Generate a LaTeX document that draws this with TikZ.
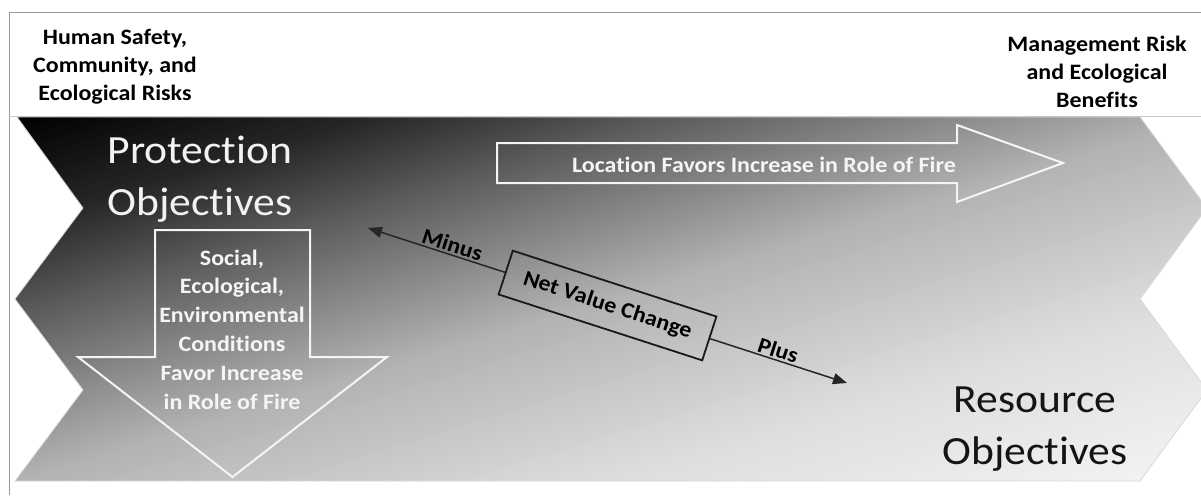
\documentclass[tikz,border=0pt]{standalone}
\usepackage{fontspec}
\setmainfont{Carlito}[FakeStretch=1.09, Ligatures=NoCommon]
\usetikzlibrary{arrows.meta}
\tikzset{
  smalltxt/.style={font=\bfseries\fontsize{22}{28}\selectfont, align=center},
  bigtxt/.style={font=\fontsize{40}{52}\selectfont, align=center},
  whiteline/.style={draw=white!96!black, line width=2},
  netarrow/.style={draw=black!85, line width=1.5, -{Triangle[length=14pt,width=11pt]}},
}
\begin{document}
\begin{tikzpicture}[x=1pt,y=-1pt]
\useasboundingbox (0,0) rectangle (1201,495);
% frame
\draw[black!40, line width=1] (9,495) -- (9,13) -- (1201,13);
% chevron band with diagonal gradient
\begin{scope}
  \clip (17,117) -- (1140,117) -- (1207,208) -- (1140,299) -- (1207,390) -- (1140,481)
    -- (15,481) -- (83,390) -- (15,299) -- (83,208) -- cycle;
  \foreach \i in {0,...,159}{
    \pgfmathsetmacro{\ca}{\i/80}
    \pgfmathsetmacro{\cb}{(\i+1)/80+0.004}
    \pgfmathsetmacro{\cm}{(\i+0.5)/80}
    \pgfmathsetmacro{\g}{100*(\cm<0.3 ? \cm/0.3*0.15 : (\cm<0.55 ? 0.15+(\cm-0.3)/0.25*0.21 : (\cm<1 ? 0.36+(\cm-0.55)/0.45*0.34 : (\cm<1.5 ? 0.70+(\cm-1)/0.5*0.17 : 0.87+(\cm-1.5)/0.5*0.09))))}
    \pgfmathsetmacro{\xa}{15+1192*(\ca+0.1)}
    \pgfmathsetmacro{\xb}{15+1192*(\cb+0.1)}
    \pgfmathsetmacro{\xc}{15+1192*(\cb-1.1)}
    \pgfmathsetmacro{\xd}{15+1192*(\ca-1.1)}
    \fill[white!\g!black] (\xa,80.6) -- (\xb,80.6) -- (\xc,517.4) -- (\xd,517.4) -- cycle;
  }
\end{scope}
\draw[white!85!black, line width=0.8]
  (17,117) -- (1140,117) -- (1207,208) -- (1140,299) -- (1207,390) -- (1140,481)
  -- (15,481) -- (83,390) -- (15,299) -- (83,208) -- cycle;
\draw[black!22, line width=1] (9,116) -- (1201,116);
% header texts (base = last line)
\node[smalltxt, anchor=base] (hdrL) at (115,100) {Human Safety,\\Community, and\\Ecological Risks};
\node[smalltxt, anchor=base] (hdrR) at (1097,107) {Management Risk\\and Ecological\\Benefits};
% big texts
\node[bigtxt, text=white!95!black, anchor=base] (prot) at (200,215) {Protection\\Objectives};
\node[bigtxt, text=black!92, anchor=base] (res) at (1035,464) {Resource\\Objectives};
% horizontal arrow
\draw[whiteline] (497,143) -- (957,143) -- (957,125) -- (1063,163) -- (957,202) -- (957,183) -- (497,183) -- cycle;
\node[smalltxt, text=white!96!black, anchor=base] (loc) at (764,172) {Location Favors Increase in Role of Fire};
% down arrow
\draw[whiteline] (155,230) -- (310,230) -- (310,357) -- (387,357) -- (232.5,477) -- (78,357) -- (155,357) -- cycle;
\node[smalltxt, text=white!96!black, anchor=base, font=\bfseries\fontsize{22}{28.8}\selectfont] (cond) at (232,409)
  {Social,\\Ecological,\\Environmental\\Conditions\\Favor Increase\\in Role of Fire};
% net value change
\coordinate (minus) at (368,228);
\coordinate (plus) at (847,383);
\path (minus) -- node[sloped, draw=black!90, line width=1.8, minimum width=214, minimum height=46, inner sep=0, smalltxt] (nvc) {Net Value Change} (plus);
\draw[netarrow] (nvc.west) -- (minus);
\draw[netarrow] (nvc.east) -- (plus);
\path (minus) -- node[pos=0.17, sloped, above, inner sep=2, smalltxt] (mlab) {Minus} (plus);
\path (minus) -- node[pos=0.85, sloped, above, inner sep=2, smalltxt] (plab) {Plus} (plus);
\end{tikzpicture}
\end{document}
